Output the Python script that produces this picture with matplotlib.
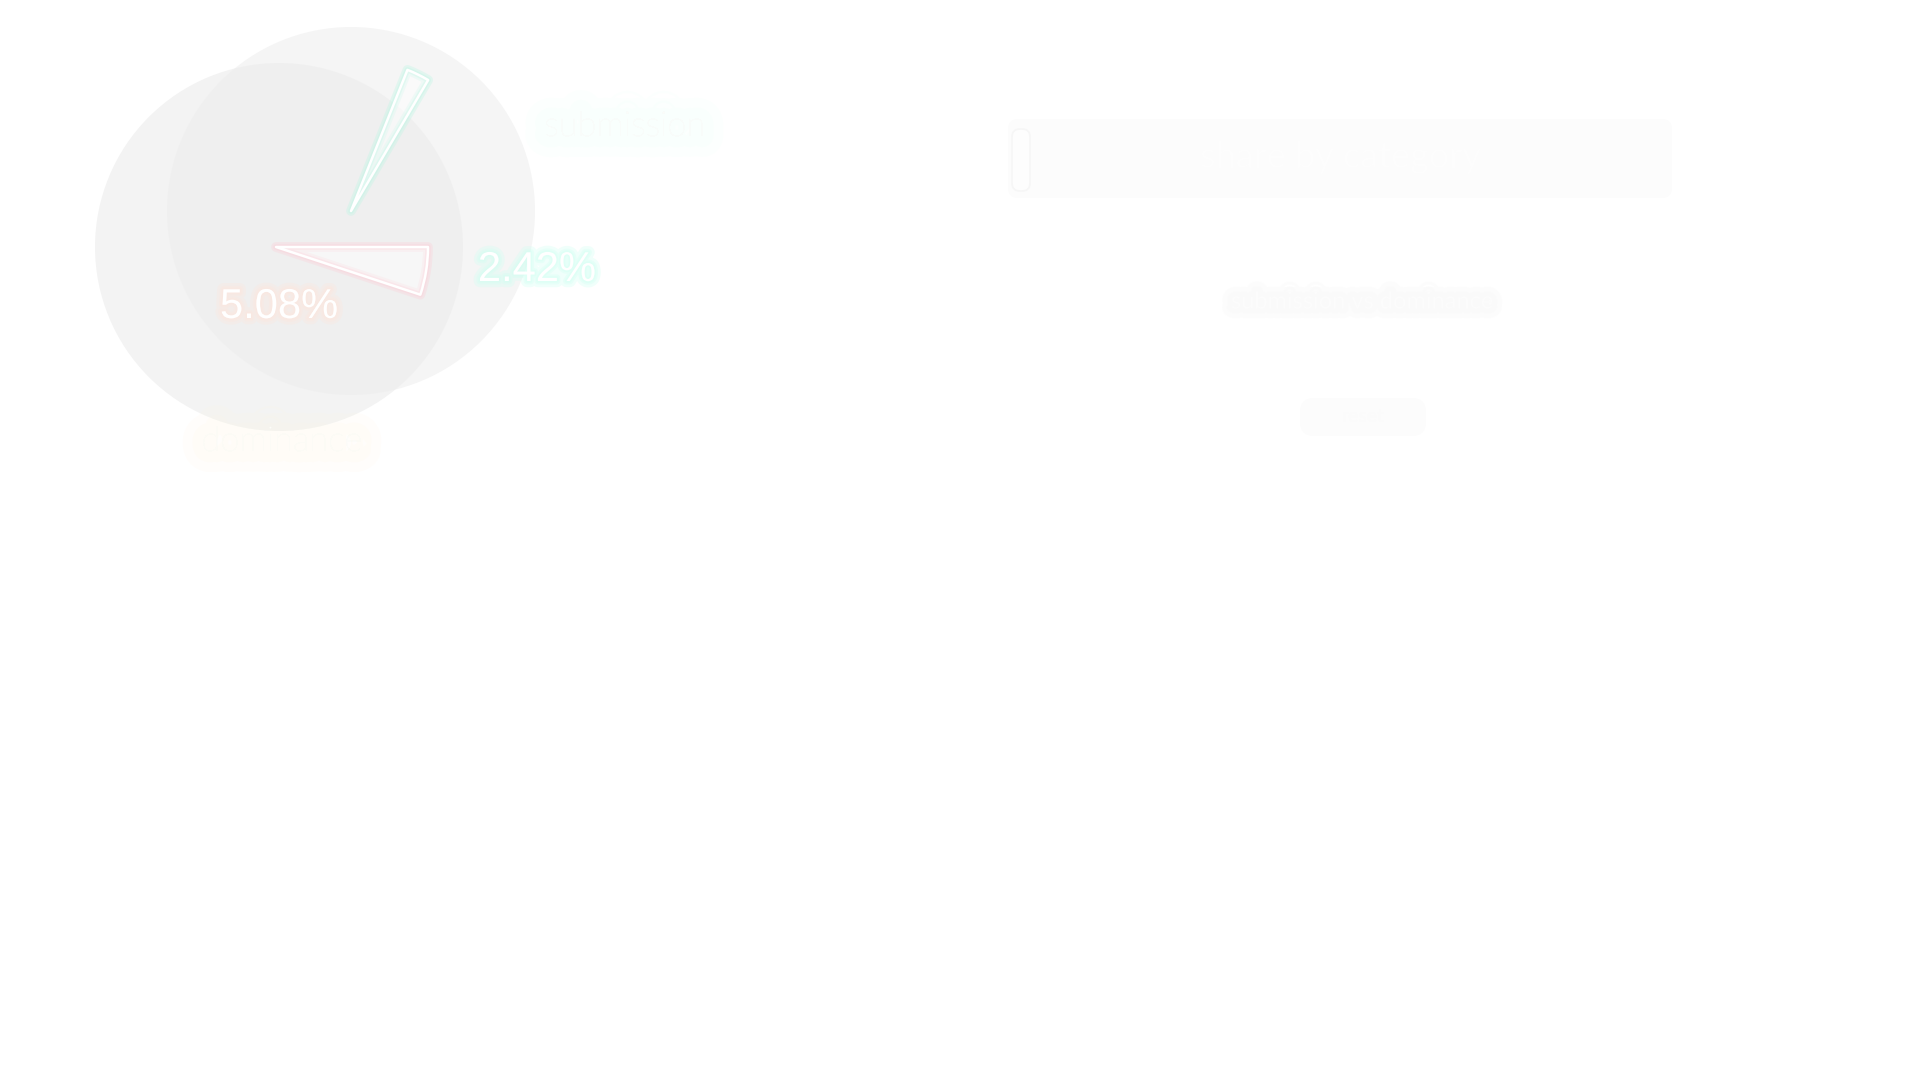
import matplotlib
matplotlib.use("Agg")
import matplotlib.pyplot as plt
import matplotlib.patheffects as pe
from matplotlib.patches import Circle, FancyBboxPatch

# data
categories = ["dominance", "submission"]
shares = [5.08, 2.42]
start_angles = [0.0, 68.2]          # degrees, slices run clockwise
glow_colors = ["#ffccd6", "#b8f7e4"]
label_glow = ["#ffe6dc", "#d0fff2"]
name_glow = ["#fff6e0", "#e8fff8"]

# layout in pixel coords (y from top)
W, H = 1920, 1080
disc_centers = [(279, 247), (351, 211)]
pie_centers = [(276, 247), (351, 211)]
disc_r = 184
slice_r = 152
pct_pos = [(279, 307), (537, 270)]
name_pos = [(282, 441), (625, 126)]


def fy(y):
    return H - y


def glow(color, widths=(10, 6, 3), alpha=0.35):
    effects = [pe.Stroke(linewidth=w, foreground=color, alpha=alpha,
                         joinstyle="round", capstyle="round") for w in widths]
    return effects + [pe.Normal()]


fig = plt.figure(figsize=(19.2, 10.8), dpi=100)
fig.patch.set_facecolor("white")
ax = fig.add_axes([0, 0, 1, 1])
ax.axis("off")

# soft grey discs behind each pie
ax.add_patch(Circle((disc_centers[0][0], fy(disc_centers[0][1])), disc_r,
                    facecolor="#f3f3f3", edgecolor="none", zorder=1))
ax.add_patch(Circle((disc_centers[1][0], fy(disc_centers[1][1])), disc_r,
                    facecolor="#ededed", alpha=0.55, edgecolor="none", zorder=2))

for i, share in enumerate(shares):
    cx, cy = pie_centers[i]
    wedges, _ = ax.pie([share, 100 - share], center=(cx, fy(cy)), radius=slice_r,
                       startangle=start_angles[i], counterclock=False,
                       colors=[(1, 1, 1, 0.12), "white"],
                       wedgeprops=dict(edgecolor="white", linewidth=1.8,
                                       joinstyle="round"))
    wedges[1].set_visible(False)
    wedges[0].set_zorder(5)
    wedges[0].set_path_effects(glow(glow_colors[i], widths=(7, 4), alpha=0.3))

    px, py = pct_pos[i]
    ax.text(px, fy(py), f"{share:.2f}%", ha="center", va="center",
            fontsize=30, color="white", zorder=6,
            family=["Liberation Sans", "DejaVu Sans"],
            path_effects=glow(label_glow[i], widths=(9, 5, 2.5), alpha=0.3))

    nx, ny = name_pos[i]
    ax.text(nx, fy(ny), categories[i], ha="center", va="center",
            fontsize=25, color="#fcfcf9", zorder=6, family=["Lato", "DejaVu Sans"],
            fontweight="light",
            path_effects=glow(name_glow[i], widths=(30, 16), alpha=0.12))

ax.set_aspect("equal")
ax.set_xlim(0, W)
ax.set_ylim(0, H)

# right hand panel: title box with accent bar, caption and button
ax.add_patch(FancyBboxPatch((1008, fy(198)), 664, 79,
                            boxstyle="round,pad=0,rounding_size=10",
                            facecolor="#fcfcfc", edgecolor="none", zorder=3))
ax.add_patch(FancyBboxPatch((1012, fy(191)), 18, 62,
                            boxstyle="round,pad=0,rounding_size=8",
                            facecolor="#fdfdfd", edgecolor="#f6f6f6", linewidth=1.2,
                            zorder=4))
ax.text(1340, fy(158), "share by category", ha="center", va="center",
        fontsize=26, color="#fdfdfd", zorder=5, family=["Lato", "DejaVu Sans"])

ax.text(1362, fy(302), "submission vs dominance", ha="center", va="center",
        fontsize=17, color="#fcfcfc", zorder=5, family=["Lato", "DejaVu Sans"],
        path_effects=glow("#f8f8f8", widths=(14, 7), alpha=0.3))

ax.add_patch(FancyBboxPatch((1300, fy(436)), 126, 38,
                            boxstyle="round,pad=0,rounding_size=14",
                            facecolor="#fcfcfc", edgecolor="none", zorder=3))
ax.text(1363, fy(417), "reset", ha="center", va="center",
        fontsize=14, color="#fbfbfb", zorder=5, family=["Lato", "DejaVu Sans"])

fig.savefig("out.png", dpi=100, facecolor="white")
